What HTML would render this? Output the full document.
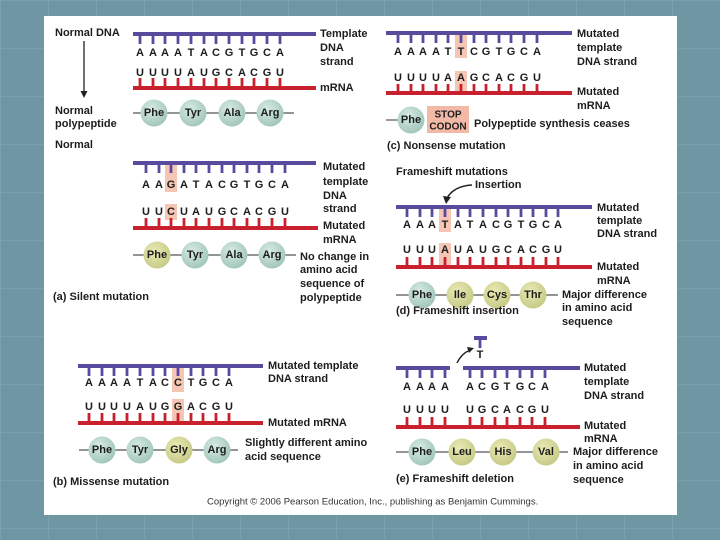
<!DOCTYPE html>
<html><head><meta charset="utf-8"><style>
html,body{margin:0;padding:0;width:720px;height:540px;overflow:hidden;background:#6e97a3}
svg{display:block}
text{font-family:"Liberation Sans",sans-serif;fill:#1d1d1d}
.l{font-size:11px;font-weight:bold}
.t{font-size:11px;font-weight:bold;text-anchor:middle}
.P{stroke:#5a4a9e;fill:none}
.R{stroke:#c8202c;fill:none}
.pep{stroke:#555;stroke-width:1.2}
</style></head><body>
<svg width="720" height="540" viewBox="0 0 720 540">
<defs>
<radialGradient id="g" cx="40%" cy="35%" r="70%"><stop offset="0" stop-color="#d6ebe3"/><stop offset="1" stop-color="#9fc4b8"/></radialGradient>
<radialGradient id="y" cx="40%" cy="35%" r="70%"><stop offset="0" stop-color="#e8eab4"/><stop offset="1" stop-color="#c6c884"/></radialGradient>
<pattern id="grid" width="48" height="48" patternUnits="userSpaceOnUse"><path d="M0 0H48M0 0V48" stroke="#83aab5" stroke-width="1"/></pattern>
</defs>
<rect width="720" height="540" fill="url(#grid)"/>
<rect x="44" y="16" width="633" height="499" fill="#fff"/>
<g dominant-baseline="central">

<!-- Normal -->
<text class="l" x="55" y="33">Normal DNA</text>
<path d="M84 41V92" stroke="#222" stroke-width="1.3"/><path d="M80.5 91L84 98L87.5 91Z" fill="#222"/>
<text class="l" x="55" y="111">Normal</text><text class="l" x="55" y="124">polypeptide</text>
<text class="l" x="55" y="145">Normal</text>
<path class="P" stroke-width="4" d="M133 34H316"/>
<path class="P" stroke-width="2.8" d="M140 34V44M153 34V44M165 34V44M178 34V44M191 34V44M204 34V44M216 34V44M229 34V44M242 34V44M254 34V44M267 34V44M280 34V44"/>
<text class="t" x="140 153 165 178 191 204 216 229 242 254 267 280" y="53">AAAATACGTGCA</text>
<text class="t" x="140 153 165 178 191 204 216 229 242 254 267 280" y="73">UUUUAUGCACGU</text>
<path class="R" stroke-width="2.8" d="M140 78V88M153 78V88M165 78V88M178 78V88M191 78V88M204 78V88M216 78V88M229 78V88M242 78V88M254 78V88M267 78V88M280 78V88"/>
<path class="R" stroke-width="4" d="M133 88H316"/>
<text class="l" x="320" y="34">Template</text><text class="l" x="320" y="48">DNA</text><text class="l" x="320" y="62">strand</text>
<text class="l" x="320" y="88">mRNA</text>
<path class="pep" d="M133 113H294"/>
<circle cx="154" cy="113" r="13.5" fill="url(#g)"/><circle cx="193" cy="113" r="13.5" fill="url(#g)"/><circle cx="232" cy="113" r="13.5" fill="url(#g)"/><circle cx="270" cy="113" r="13.5" fill="url(#g)"/>
<text class="t" x="154" y="113">Phe</text><text class="t" x="193" y="113">Tyr</text><text class="t" x="232" y="113">Ala</text><text class="t" x="270" y="113">Arg</text>

<!-- (a) -->
<rect x="165" y="164" width="12" height="28" fill="#f5c6b4"/>
<rect x="165" y="204" width="12" height="16" fill="#f5c6b4"/>
<path class="P" stroke-width="4" d="M133 163H316"/>
<path class="P" stroke-width="2.8" d="M146 163V173M159 163V173M171 163V173M184 163V173M196 163V173M209 163V173M222 163V173M234 163V173M247 163V173M259 163V173M272 163V173M285 163V173"/>
<text class="t" x="146 159 171 184 196 209 222 234 247 259 272 285" y="185">AAGATACGTGCA</text>
<text class="t" x="146 159 171 184 196 209 222 234 247 259 272 285" y="212">UUCUAUGCACGU</text>
<path class="R" stroke-width="2.8" d="M146 218V228M159 218V228M171 218V228M184 218V228M196 218V228M209 218V228M222 218V228M234 218V228M247 218V228M259 218V228M272 218V228M285 218V228"/>
<path class="R" stroke-width="4" d="M133 228H318"/>
<text class="l" x="323" y="167">Mutated</text><text class="l" x="323" y="182">template</text><text class="l" x="323" y="196">DNA</text><text class="l" x="323" y="209">strand</text>
<text class="l" x="323" y="226">Mutated</text><text class="l" x="323" y="240">mRNA</text>
<path class="pep" d="M133 255H296"/>
<circle cx="157" cy="255" r="13.5" fill="url(#y)"/><circle cx="195" cy="255" r="13.5" fill="url(#g)"/><circle cx="234" cy="255" r="13.5" fill="url(#g)"/><circle cx="272" cy="255" r="13.5" fill="url(#g)"/>
<text class="t" x="157" y="255">Phe</text><text class="t" x="195" y="255">Tyr</text><text class="t" x="234" y="255">Ala</text><text class="t" x="272" y="255">Arg</text>
<text class="l" x="300" y="257">No change in</text><text class="l" x="300" y="270">amino acid</text><text class="l" x="300" y="284">sequence of</text><text class="l" x="300" y="298">polypeptide</text>
<text class="l" x="53" y="297">(a) Silent mutation</text>

<!-- (b) -->
<rect x="172" y="367" width="12" height="25" fill="#f5c6b4"/>
<rect x="172" y="399" width="12" height="22" fill="#f5c6b4"/>
<path class="P" stroke-width="4" d="M78 366H263"/>
<path class="P" stroke-width="2.8" d="M89 366V376M102 366V376M114 366V376M127 366V376M140 366V376M153 366V376M165 366V376M178 366V376M191 366V376M203 366V376M216 366V376M229 366V376"/>
<text class="t" x="89 102 114 127 140 153 165 178 191 203 216 229" y="383">AAAATACCTGCA</text>
<text class="t" x="89 102 114 127 140 153 165 178 191 203 216 229" y="407">UUUUAUGGACGU</text>
<path class="R" stroke-width="2.8" d="M89 413V423M102 413V423M114 413V423M127 413V423M140 413V423M153 413V423M165 413V423M178 413V423M191 413V423M203 413V423M216 413V423M229 413V423"/>
<path class="R" stroke-width="4" d="M78 423H263"/>
<text class="l" x="268" y="366">Mutated template</text><text class="l" x="268" y="379">DNA strand</text>
<text class="l" x="268" y="423">Mutated mRNA</text>
<path class="pep" d="M79 450H238"/>
<circle cx="102" cy="450" r="13.5" fill="url(#g)"/><circle cx="140" cy="450" r="13.5" fill="url(#g)"/><circle cx="179" cy="450" r="13.5" fill="url(#y)"/><circle cx="217" cy="450" r="13.5" fill="url(#g)"/>
<text class="t" x="102" y="450">Phe</text><text class="t" x="140" y="450">Tyr</text><text class="t" x="179" y="450">Gly</text><text class="t" x="217" y="450">Arg</text>
<text class="l" x="245" y="443">Slightly different amino</text><text class="l" x="245" y="457">acid sequence</text>
<text class="l" x="53" y="482">(b) Missense mutation</text>

<!-- (c) -->
<rect x="455" y="34" width="12" height="24" fill="#f5c6b4"/>
<rect x="455" y="71" width="12" height="20" fill="#f5c6b4"/>
<path class="P" stroke-width="4" d="M386 33H572"/>
<path class="P" stroke-width="2.8" d="M398 33V43M411 33V43M423 33V43M436 33V43M448 33V43M461 33V43M474 33V43M486 33V43M499 33V43M511 33V43M524 33V43M537 33V43"/>
<text class="t" x="398 411 423 436 448 461 474 486 499 511 524 537" y="52">AAAATTCGTGCA</text>
<text class="t" x="398 411 423 436 448 461 474 486 499 511 524 537" y="78">UUUUAAGCACGU</text>
<path class="R" stroke-width="2.8" d="M398 84V93M411 84V93M423 84V93M436 84V93M448 84V93M461 84V93M474 84V93M486 84V93M499 84V93M511 84V93M524 84V93M537 84V93"/>
<path class="R" stroke-width="4" d="M386 93H572"/>
<text class="l" x="577" y="34">Mutated</text><text class="l" x="577" y="48">template</text><text class="l" x="577" y="62">DNA strand</text>
<text class="l" x="577" y="92">Mutated</text><text class="l" x="577" y="106">mRNA</text>
<path class="pep" d="M386 120H399"/>
<circle cx="411" cy="120" r="13.5" fill="url(#g)"/><text class="t" x="411" y="120">Phe</text>
<rect x="427" y="106" width="42" height="27" fill="#f3b9a7"/>
<text class="t" x="448" y="115" style="font-size:10px">STOP</text><text class="t" x="448" y="127" style="font-size:10px">CODON</text>
<text class="l" x="474" y="124">Polypeptide synthesis ceases</text>
<text class="l" x="387" y="146">(c) Nonsense mutation</text>

<!-- (d) -->
<text class="l" x="396" y="172">Frameshift mutations</text>
<text class="l" x="475" y="185">Insertion</text>
<path d="M472 185Q454 186 447 198" stroke="#222" stroke-width="1.5" fill="none"/><path d="M443 196L446 204L451 197Z" fill="#222"/>
<rect x="439" y="208" width="12" height="24" fill="#f5c6b4"/>
<rect x="439" y="243" width="12" height="22" fill="#f5c6b4"/>
<path class="P" stroke-width="4" d="M396 207H592"/>
<path class="P" stroke-width="2.8" d="M407 207V217M420 207V217M432 207V217M445 207V217M458 207V217M470 207V217M483 207V217M496 207V217M508 207V217M521 207V217M533 207V217M546 207V217M558 207V217"/>
<text class="t" x="407 420 432 445 458 470 483 496 508 521 533 546 558" y="225">AAATATACGTGCA</text>
<text class="t" x="407 420 432 445 458 470 483 496 508 521 533 546 558" y="250">UUUAUAUGCACGU</text>
<path class="R" stroke-width="2.8" d="M407 257V267M420 257V267M432 257V267M445 257V267M458 257V267M470 257V267M483 257V267M496 257V267M508 257V267M521 257V267M533 257V267M546 257V267M558 257V267"/>
<path class="R" stroke-width="4" d="M396 267H592"/>
<text class="l" x="597" y="208">Mutated</text><text class="l" x="597" y="221">template</text><text class="l" x="597" y="234">DNA strand</text>
<text class="l" x="597" y="267">Mutated</text><text class="l" x="597" y="281">mRNA</text>
<path class="pep" d="M396 295H558"/>
<circle cx="422" cy="295" r="13.5" fill="url(#g)"/><circle cx="460" cy="295" r="13.5" fill="url(#y)"/><circle cx="497" cy="295" r="13.5" fill="url(#y)"/><circle cx="533" cy="295" r="13.5" fill="url(#y)"/>
<text class="t" x="422" y="295">Phe</text><text class="t" x="460" y="295">Ile</text><text class="t" x="497" y="295">Cys</text><text class="t" x="533" y="295">Thr</text>
<text class="l" x="562" y="295">Major difference</text><text class="l" x="562" y="308">in amino acid</text><text class="l" x="562" y="322">sequence</text>
<text class="l" x="396" y="311">(d) Frameshift insertion</text>

<!-- (e) -->
<path class="P" stroke-width="4" d="M474 338H487"/><path class="P" stroke-width="2.8" d="M480 338V348"/>
<text class="t" x="480" y="355">T</text>
<path d="M457 363Q461 354 470 350" stroke="#222" stroke-width="1.5" fill="none"/><path d="M467 347L474 348L469 353Z" fill="#222"/>
<path class="P" stroke-width="4" d="M396 368H450M463 368H580"/>
<path class="P" stroke-width="2.8" d="M407 368V378M420 368V378M432 368V378M445 368V378M470 368V378M482 368V378M495 368V378M507 368V378M520 368V378M532 368V378M545 368V378"/>
<text class="t" x="407 420 432 445 470 482 495 507 520 532 545" y="387">AAAAACGTGCA</text>
<text class="t" x="407 420 432 445 470 482 495 507 520 532 545" y="410">UUUUUGCACGU</text>
<path class="R" stroke-width="2.8" d="M407 417V427M420 417V427M432 417V427M445 417V427M470 417V427M482 417V427M495 417V427M507 417V427M520 417V427M532 417V427M545 417V427"/>
<path class="R" stroke-width="4" d="M396 427H580"/>
<text class="l" x="584" y="368">Mutated</text><text class="l" x="584" y="382">template</text><text class="l" x="584" y="396">DNA strand</text>
<text class="l" x="584" y="426">Mutated</text><text class="l" x="584" y="439">mRNA</text>
<path class="pep" d="M396 452H568"/>
<circle cx="422" cy="452" r="13.5" fill="url(#g)"/><circle cx="462" cy="452" r="13.5" fill="url(#y)"/><circle cx="503" cy="452" r="13.5" fill="url(#y)"/><circle cx="546" cy="452" r="13.5" fill="url(#y)"/>
<text class="t" x="422" y="452">Phe</text><text class="t" x="462" y="452">Leu</text><text class="t" x="503" y="452">His</text><text class="t" x="546" y="452">Val</text>
<text class="l" x="573" y="452">Major difference</text><text class="l" x="573" y="466">in amino acid</text><text class="l" x="573" y="480">sequence</text>
<text class="l" x="396" y="479">(e) Frameshift deletion</text>

<text x="207" y="502" style="font-size:9.5px;fill:#333">Copyright © 2006 Pearson Education, Inc., publishing as Benjamin Cummings.</text>
</g>
</svg>
</body></html>
